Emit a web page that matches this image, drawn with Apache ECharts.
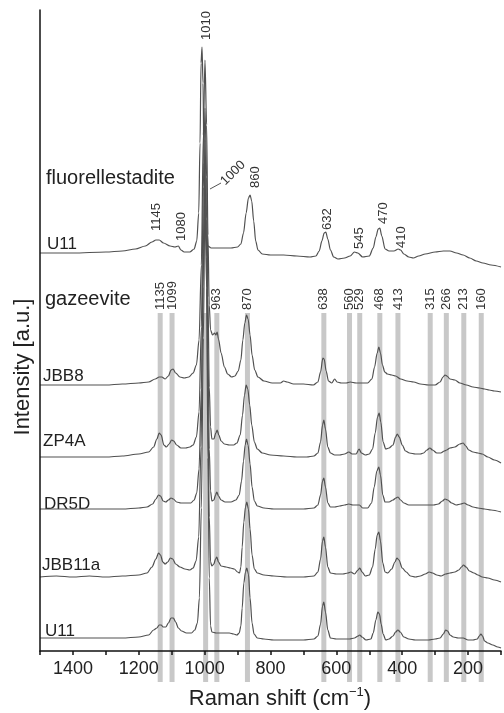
<!DOCTYPE html>
<html>
<head>
<meta charset="utf-8">
<script src="https://cdn.jsdelivr.net/npm/echarts@6.0.0/dist/echarts.min.js"></script>
<style>html,body{margin:0;padding:0;background:#fff;}#c{width:504px;height:713px;}</style>
</head>
<body>
<div id="c"></div>
<script>
// ---- data (Raman shift cm-1, relative intensity) ----
const fluorU11 = [[1500,0],[1400,0],[1300,1],[1250,2],[1210,4],[1180,7],[1160,11],[1148,13],[1138,13],[1125,10],[1105,7],[1090,6],[1080,7],[1072,3],[1062,1],[1045,1],[1032,4],[1024,12],[1018,40],[1014,110],[1011,190],[1008,206],[1005,170],[1002,90],[999,35],[995,12],[990,7],[980,5],[950,5],[920,5],[900,6],[890,9],[882,20],[874,40],[867,55],[862,58],[857,52],[851,32],[845,12],[838,3],[825,-1],[800,-2],[760,-2],[720,-3],[680,-4],[662,-3],[652,2],[644,12],[637,20],[632,21],[626,14],[618,3],[608,-4],[595,-6],[575,-5],[558,-3],[545,1],[535,0],[520,-4],[500,-3],[488,5],[480,16],[473,24],[468,25],[462,17],[452,4],[440,2],[425,2],[412,4],[405,3],[395,-1],[380,-4],[366,-5],[350,-3],[330,-1],[300,1],[275,2],[255,2],[235,0],[215,-2],[195,-5],[175,-8],[155,-10],[130,-12],[100,-14]];
const JBB8 = [[1500,0],[1400,0],[1300,0],[1250,1],[1200,2],[1170,3],[1150,6],[1138,8],[1130,8],[1120,6],[1110,9],[1102,15],[1096,16],[1088,12],[1075,8],[1062,7],[1048,8],[1035,12],[1025,20],[1017,45],[1010,120],[1004,250],[999,325],[994,260],[990,150],[986,80],[982,55],[976,50],[970,52],[966,50],[962,53],[958,46],[950,32],[940,18],[930,11],[918,8],[908,9],[898,14],[890,25],[884,45],[878,62],[873,70],[868,66],[862,50],[856,30],[848,15],[838,8],[820,4],[795,2],[770,2],[760,4],[750,3],[730,1],[700,1],[670,0],[656,3],[648,13],[641,27],[637,26],[631,14],[624,4],[614,2],[605,6],[598,3],[585,2],[570,2],[558,3],[540,2],[525,2],[505,2],[492,6],[484,18],[476,32],[471,38],[466,32],[460,20],[453,13],[445,11],[432,10],[420,9],[405,6],[385,4],[365,3],[345,1],[320,0],[300,0],[285,3],[276,8],[270,10],[264,9],[255,6],[240,5],[225,2],[205,0],[185,-2],[165,-3],[150,-4],[136,-5],[120,-6],[100,-7]];
const ZP4A = [[1500,0],[1400,0],[1300,0],[1250,1],[1200,3],[1170,5],[1155,10],[1145,18],[1138,24],[1132,22],[1124,12],[1116,10],[1108,13],[1100,17],[1094,16],[1085,12],[1072,9],[1058,9],[1045,10],[1035,12],[1025,20],[1017,45],[1010,130],[1004,270],[999,349],[994,280],[990,160],[986,70],[982,30],[978,18],[972,18],[966,24],[962,27],[957,22],[950,16],[940,13],[925,12],[912,12],[902,14],[892,22],[885,42],[879,62],[874,72],[869,68],[863,52],[857,32],[849,15],[840,8],[825,4],[800,2],[760,1],[720,0],[690,0],[668,1],[656,4],[648,15],[642,32],[638,37],[633,28],[626,10],[618,4],[605,2],[590,2],[575,3],[562,5],[552,3],[540,3],[531,8],[524,4],[512,2],[500,3],[490,8],[482,24],[475,40],[470,44],[465,35],[458,15],[450,8],[440,9],[428,12],[420,20],[415,23],[409,20],[400,12],[390,6],[378,4],[360,3],[345,3],[335,4],[325,7],[316,9],[308,7],[295,4],[283,4],[272,6],[265,7],[255,9],[240,10],[225,13],[215,14],[207,11],[198,7],[185,5],[170,4],[157,3],[140,0],[120,-3],[100,-6]];
const DR5D = [[1500,0],[1400,0],[1300,0],[1250,0],[1200,1],[1175,2],[1158,5],[1148,10],[1140,14],[1134,13],[1126,8],[1118,7],[1110,9],[1102,11],[1095,10],[1085,7],[1072,6],[1055,6],[1042,6],[1032,9],[1024,16],[1017,40],[1010,120],[1004,260],[999,369],[994,290],[990,160],[986,60],[982,18],[978,8],[972,9],[967,14],[963,17],[958,13],[950,9],[938,7],[920,7],[905,9],[895,14],[888,28],[882,48],[877,64],[873,70],[868,64],[862,45],[856,22],[849,8],[840,3],[820,1],[790,0],[750,0],[700,0],[668,1],[656,4],[648,14],[642,28],[638,31],[633,22],[626,6],[618,2],[605,2],[590,3],[575,4],[562,5],[550,4],[538,4],[530,4],[520,1],[505,1],[493,6],[485,22],[477,38],[471,42],[466,34],[459,14],[452,7],[440,7],[428,9],[419,11],[413,12],[405,9],[395,6],[380,4],[360,4],[340,4],[320,4],[305,4],[290,5],[278,8],[270,10],[262,9],[250,6],[236,4],[222,5],[212,6],[200,4],[185,2],[170,1],[150,0],[130,-1],[100,-3]];
const JBB11a = [[1500,0],[1450,1],[1400,0],[1350,1],[1300,0],[1250,1],[1200,2],[1175,4],[1160,10],[1148,18],[1140,24],[1134,22],[1127,15],[1120,13],[1112,15],[1104,19],[1097,18],[1088,13],[1075,10],[1060,8],[1045,7],[1035,9],[1026,16],[1018,40],[1011,130],[1005,290],[999,407],[994,320],[990,170],[986,60],[982,15],[978,11],[972,13],[967,18],[963,20],[958,15],[950,11],[935,10],[922,9],[910,8],[900,5],[894,4],[890,10],[886,30],[881,55],[876,70],[872,75],[867,68],[862,48],[856,22],[849,8],[840,4],[820,2],[790,1],[750,0],[700,0],[668,1],[656,5],[648,18],[642,36],[638,40],[633,30],[626,10],[618,4],[600,3],[580,3],[565,4],[556,5],[545,3],[534,7],[529,9],[522,5],[512,1],[500,2],[490,10],[482,28],[476,42],[471,45],[466,36],[459,14],[452,5],[444,4],[432,8],[422,15],[416,19],[410,17],[400,9],[388,5],[375,1],[360,0],[345,1],[330,3],[318,5],[308,4],[295,2],[282,1],[268,3],[255,4],[240,5],[228,7],[220,10],[214,12],[206,10],[196,6],[182,4],[170,2],[157,0],[140,-1],[120,-3],[100,-5]];
const U11 = [[1500,0],[1400,0],[1300,0],[1250,0],[1200,1],[1170,3],[1155,8],[1145,10],[1138,13],[1132,13],[1126,11],[1118,11],[1110,15],[1102,20],[1095,20],[1088,16],[1080,10],[1070,7],[1055,5],[1040,5],[1030,8],[1022,15],[1016,40],[1010,130],[1004,300],[999,438],[994,350],[990,180],[986,60],[982,12],[978,6],[965,5],[945,5],[925,5],[912,4],[902,3],[895,5],[890,12],[886,30],[881,55],[876,66],[872,70],[867,64],[862,40],[856,15],[850,4],[840,0],[820,-1],[790,-2],[750,-2],[700,-2],[668,-1],[656,2],[648,14],[642,32],[638,36],[633,26],[626,8],[618,0],[600,-1],[580,-1],[560,-1],[545,0],[534,2],[529,3],[522,1],[510,-2],[495,-1],[488,5],[480,18],[474,26],[469,24],[464,14],[458,4],[450,-2],[440,-1],[428,2],[420,6],[413,8],[406,6],[395,1],[380,-1],[360,-2],[340,-2],[320,-2],[300,-1],[285,0],[275,4],[268,8],[262,7],[255,3],[245,1],[230,0],[215,0],[200,-2],[185,-2],[172,-1],[166,2],[161,4],[156,2],[150,-3],[140,-5],[125,-7],[110,-9],[100,-10]];

const sampleNames = ['U11 (fluorellestadite)','JBB8','ZP4A','DR5D','JBB11a','U11'];
const sampleData = [fluorU11, JBB8, ZP4A, DR5D, JBB11a, U11];
const stackOffsets = [398, 266, 194, 142, 74, 13];

const bandShifts = [1135,1099,997,963,870,638,560,529,468,413,315,266,213,160];
const bandLabels = ['1135','1099','','963','870','638','560','529','468','413','315','266','213','160'];

const fluorPeakShifts = [1145,1080,1010,860,632,545,470,410];
const fluorPeakLabels = ['1145','1080','1010','860','632','545','470','410'];

const xTicks = [1400,1200,1000,800,600,400,200];

// ---- layout ----
const FONT = '"Liberation Sans", Arial, sans-serif';
const fluorLabelDx = [0,3,5,5,2,5,4,3];
const fluorLabelBottom = [231,241,40,188,230,249,224,248];

const chart = echarts.init(document.getElementById('c'), null, {renderer:'canvas'});

const lineSeries = sampleData.map((d, i) => ({
  name: sampleNames[i],
  type: 'line',
  data: d.map(p => [p[0], p[1] + stackOffsets[i]]),
  symbol: 'none',
  smooth: 0.3,
  smoothMonotone: 'x',
  lineStyle: {color: '#505050', width: 1.2},
  z: 3,
  silent: true
}));

const bandSeries = {
  type: 'custom',
  clip: false,
  silent: true,
  z: 0,
  data: bandShifts.map(v => [v, 0]),
  encode: {x: 0, y: 1},
  renderItem: (params, api) => {
    const x = api.coord([api.value(0), 0])[0];
    const lab = bandLabels[params.dataIndex];
    return {type: 'group', children: [
      {type: 'rect', shape: {x: x - 2.5, y: 313, width: 5, height: 369}, style: {fill: '#c8c8c8'}},
      {type: 'text', x: x, y: 310, rotation: Math.PI / 2,
        style: {text: lab, fontSize: 13, fontFamily: FONT, fill: '#333', align: 'left', verticalAlign: 'middle'}}
    ]};
  }
};

const fluorLabelSeries = {
  type: 'custom',
  clip: false,
  silent: true,
  z: 4,
  data: fluorPeakShifts.map(v => [v, 0]),
  encode: {x: 0, y: 1},
  renderItem: (params, api) => {
    const i = params.dataIndex;
    const x = api.coord([api.value(0), 0])[0] + fluorLabelDx[i];
    return {type: 'text', x: x, y: fluorLabelBottom[i], rotation: Math.PI / 2,
      style: {text: fluorPeakLabels[i], fontSize: 13, fontFamily: FONT, fill: '#333', align: 'left', verticalAlign: 'middle'}};
  }
};

const txt = (t, x, y, size, extra) => Object.assign({type: 'text', x: x, y: y,
  style: {text: t, fontSize: size, fontFamily: FONT, fill: '#222', align: 'left', verticalAlign: 'middle'}}, extra || {});

chart.setOption({
  animation: false,
  backgroundColor: '#fff',
  grid: {left: 40, right: 0, top: 10, bottom: 62},
  xAxis: {
    type: 'value', inverse: true, min: 100, max: 1500, interval: 100, z: 10,
    axisLine: {show: true, lineStyle: {color: '#111', width: 1.5}},
    axisTick: {show: true, inside: false, length: 4, lineStyle: {color: '#111', width: 1.5}},
    axisLabel: {fontSize: 18, fontFamily: FONT, color: '#222', margin: 9,
      formatter: v => (xTicks.indexOf(v) >= 0 ? String(v) : '')},
    splitLine: {show: false}
  },
  yAxis: {
    type: 'value', min: 0, max: 641, z: 10,
    axisLine: {show: true, lineStyle: {color: '#111', width: 1.5}},
    axisTick: {show: false}, axisLabel: {show: false}, splitLine: {show: false}
  },
  series: [bandSeries].concat(lineSeries, [fluorLabelSeries]),
  graphic: [
    txt('fluorellestadite', 46, 178, 20),
    txt('U11', 47, 244, 17),
    txt('gazeevite', 45, 299, 20),
    txt('JBB8', 43, 376, 17),
    txt('ZP4A', 43, 441, 17),
    txt('DR5D', 44, 504, 17),
    txt('JBB11a', 42, 565, 17),
    txt('U11', 45, 631, 17),
    {type: 'line', shape: {x1: 210, y1: 189, x2: 221, y2: 183}, style: {stroke: '#555', lineWidth: 1}},
    {type: 'text', x: 233, y: 173, rotation: Math.PI / 4,
      style: {text: '1000', fontSize: 13, fontFamily: FONT, fill: '#333', align: 'center', verticalAlign: 'middle'}},
    {type: 'text', x: 23, y: 367, rotation: Math.PI / 2,
      style: {text: 'Intensity [a.u.]', fontSize: 22, fontFamily: FONT, fill: '#222', align: 'center', verticalAlign: 'middle'}},
    {type: 'text', x: 280, y: 699,
      style: {text: '{a|Raman shift (cm}{b|−1}{a|)}', fontFamily: FONT, fill: '#222', align: 'center', verticalAlign: 'middle',
        rich: {a: {fontSize: 22, fontFamily: FONT, fill: '#222', lineHeight: 26}, b: {fontSize: 13, fontFamily: FONT, fill: '#222', verticalAlign: 'top', lineHeight: 26}}}}
  ]
});
</script>
</body>
</html>
